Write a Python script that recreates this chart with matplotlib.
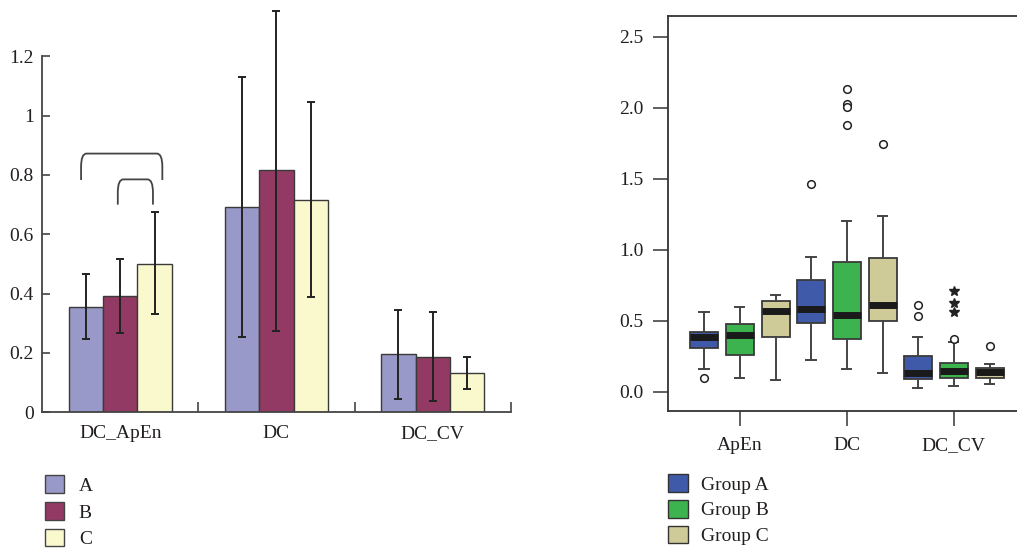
import numpy as np
import matplotlib.pyplot as plt
from matplotlib.path import Path
from matplotlib.patches import PathPatch, Patch

plt.rcParams['font.family'] = ['Liberation Serif', 'DejaVu Serif']
TXT = "#231f20"

# -----------------------------
# Left panel: bar chart data
# -----------------------------
bar_cats = ["DC_ApEn", "DC", "DC_CV"]
bar_groups = ["A", "B", "C"]
bar_means = {
    "A": [0.355, 0.692, 0.195],
    "B": [0.393, 0.817, 0.187],
    "C": [0.501, 0.717, 0.133],
}
bar_upper = {
    "A": [0.467, 1.130, 0.346],
    "B": [0.518, 1.354, 0.338],
    "C": [0.676, 1.047, 0.187],
}
bar_lower = {
    "A": [0.246, 0.254, 0.046],
    "B": [0.268, 0.274, 0.038],
    "C": [0.330, 0.389, 0.080],
}
bar_colors = ["#9898c9", "#923a63", "#faf8cd"]

# significance brackets: (x_left, x_right, y_bottom, y_top)
brackets = [(-0.25, 0.27, 0.783, 0.872), (-0.015, 0.21, 0.700, 0.785)]

# -----------------------------
# Right panel: box plot data
# -----------------------------
box_cats = ["ApEn", "DC", "DC_CV"]
box_groups = ["Group A", "Group B", "Group C"]
box_colors = ["#3f5aa8", "#3db350", "#cfcb98"]
# per category, per group: (whislo, q1, med, q3, whishi)
box_stats = [
    [(0.160, 0.310, 0.385, 0.423, 0.563),
     (0.099, 0.261, 0.401, 0.474, 0.594),
     (0.082, 0.387, 0.570, 0.636, 0.683)],
    [(0.223, 0.484, 0.582, 0.789, 0.948),
     (0.157, 0.373, 0.542, 0.911, 1.204),
     (0.129, 0.498, 0.613, 0.939, 1.237)],
    [(0.023, 0.089, 0.134, 0.251, 0.383),
     (0.042, 0.099, 0.148, 0.202, 0.350),
     (0.054, 0.099, 0.136, 0.167, 0.197)],
]
box_outliers = [
    [[0.099], [], []],
    [[1.465], [2.131, 2.023, 2.002, 1.876], [1.746]],
    [[0.610, 0.531], [0.371], [0.322]],
]
box_extremes = [
    [[], [], []],
    [[], [], []],
    [[], [0.709, 0.627, 0.561], []],
]

fig = plt.figure(figsize=(10.17, 5.49), dpi=100)

# -----------------------------
# Bar chart
# -----------------------------
ax1 = fig.add_axes([0.0413, 0.249, 0.461, 0.7404])
x = np.arange(len(bar_cats))
w = 0.22
for i, g in enumerate(bar_groups):
    m = np.array(bar_means[g])
    lo = m - np.array(bar_lower[g])
    hi = np.array(bar_upper[g]) - m
    ax1.bar(x + (i - 1) * w, m, w, color=bar_colors[i], edgecolor="#3a3a3a",
            linewidth=1.0, zorder=2)
    ax1.errorbar(x + (i - 1) * w, m, yerr=[lo, hi], fmt="none", ecolor="#222222",
                 elinewidth=1.4, capsize=3, capthick=1.4, zorder=3)

# brackets with rounded corners
for xl, xr, yb, yt in brackets:
    dx, r = 0.035, 0.045
    verts = [(xl, yb), (xl, yt - r), (xl, yt), (xl + dx, yt), (xr - dx, yt),
             (xr, yt), (xr, yt - r), (xr, yb)]
    codes = [Path.MOVETO, Path.LINETO, Path.CURVE3, Path.CURVE3, Path.LINETO,
             Path.CURVE3, Path.CURVE3, Path.LINETO]
    ax1.add_patch(PathPatch(Path(verts, codes), fill=False, edgecolor="#444444",
                            linewidth=1.3))

ax1.set_xlim(-0.5, 2.5)
ax1.set_ylim(0, 1.37)
ax1.set_yticks([0, 0.2, 0.4, 0.6, 0.8, 1.0, 1.2])
ax1.set_yticklabels(["0", "0.2", "0.4", "0.6", "0.8", "1", "1.2"])
ax1.set_xticks(x)
ax1.set_xticklabels(bar_cats)
ax1.set_xticks([0.5, 1.5, 2.5], minor=True)
ax1.tick_params(axis="x", which="major", length=0, pad=9, labelsize=14, colors=TXT)
ax1.tick_params(axis="x", which="minor", direction="in", length=7, width=1.2,
                color="#444444")
ax1.tick_params(axis="y", direction="in", length=6, width=1.2, pad=6,
                labelsize=14, colors=TXT)
ax1.tick_params(axis="y", color="#444444")
for s in ["top", "right"]:
    ax1.spines[s].set_visible(False)
ax1.spines["left"].set_bounds(0, 1.2)
for s in ["left", "bottom"]:
    ax1.spines[s].set_color("#444444")
    ax1.spines[s].set_linewidth(1.3)

h1 = [Patch(facecolor=c, edgecolor="#444444", linewidth=1.0) for c in bar_colors]
fig.legend(h1, bar_groups, loc="upper left", bbox_to_anchor=(0.044, 0.134),
           frameon=False, fontsize=14, handlelength=1.0, handleheight=1.0,
           labelspacing=0.38, handletextpad=0.75, borderpad=0, borderaxespad=0,
           labelcolor=TXT)

# -----------------------------
# Box plot
# -----------------------------
ax2 = fig.add_axes([0.6571, 0.2519, 0.3429, 0.7184])
offs = [-0.336, 0.0, 0.336]
for ci in range(len(box_cats)):
    for gi in range(len(box_groups)):
        lo, q1, med, q3, hi = box_stats[ci][gi]
        st = dict(whislo=lo, q1=q1, med=med, q3=q3, whishi=hi,
                  fliers=box_outliers[ci][gi])
        pos = ci + 1 + offs[gi]
        ax2.bxp([st], positions=[pos], widths=0.26, patch_artist=True,
                capwidths=[0.085],
                boxprops=dict(facecolor=box_colors[gi], edgecolor="#3a3a3a",
                              linewidth=1.3),
                medianprops=dict(color="#1a1a1a", linewidth=5, solid_capstyle="butt"),
                whiskerprops=dict(color="#444444", linewidth=1.4),
                capprops=dict(color="#444444", linewidth=1.4),
                flierprops=dict(marker="o", markersize=5.5, markerfacecolor="white",
                                markeredgecolor="#222222", markeredgewidth=1.1))
        ext = box_extremes[ci][gi]
        if ext:
            ax2.plot([pos] * len(ext), ext, linestyle="none", marker="*",
                     markersize=7, color="#222222")

ax2.set_xlim(0.33, 3.59)
ax2.set_ylim(-0.134, 2.644)
ax2.set_yticks([0.0, 0.5, 1.0, 1.5, 2.0, 2.5])
ax2.set_yticklabels(["0.0", "0.5", "1.0", "1.5", "2.0", "2.5"])
ax2.set_xticks([1, 2, 3])
ax2.set_xticklabels(box_cats)
ax2.tick_params(axis="both", direction="out", length=11, width=1.2,
                color="#444444", labelsize=14, colors=TXT)
ax2.tick_params(axis="y", pad=7)
ax2.tick_params(axis="x", pad=8)
ax2.tick_params(axis="both", color="#444444")
ax2.spines["right"].set_visible(False)
for s in ["left", "bottom", "top"]:
    ax2.spines[s].set_color("#333333")
    ax2.spines[s].set_linewidth(1.3)

h2 = [Patch(facecolor=c, edgecolor="#333333", linewidth=1.0) for c in box_colors]
fig.legend(h2, box_groups, loc="upper left", bbox_to_anchor=(0.6565, 0.136),
           frameon=False, fontsize=14, handlelength=1.03, handleheight=1.0,
           labelspacing=0.33, handletextpad=0.68, borderpad=0, borderaxespad=0,
           labelcolor=TXT)

plt.savefig("out.png", dpi=100)
